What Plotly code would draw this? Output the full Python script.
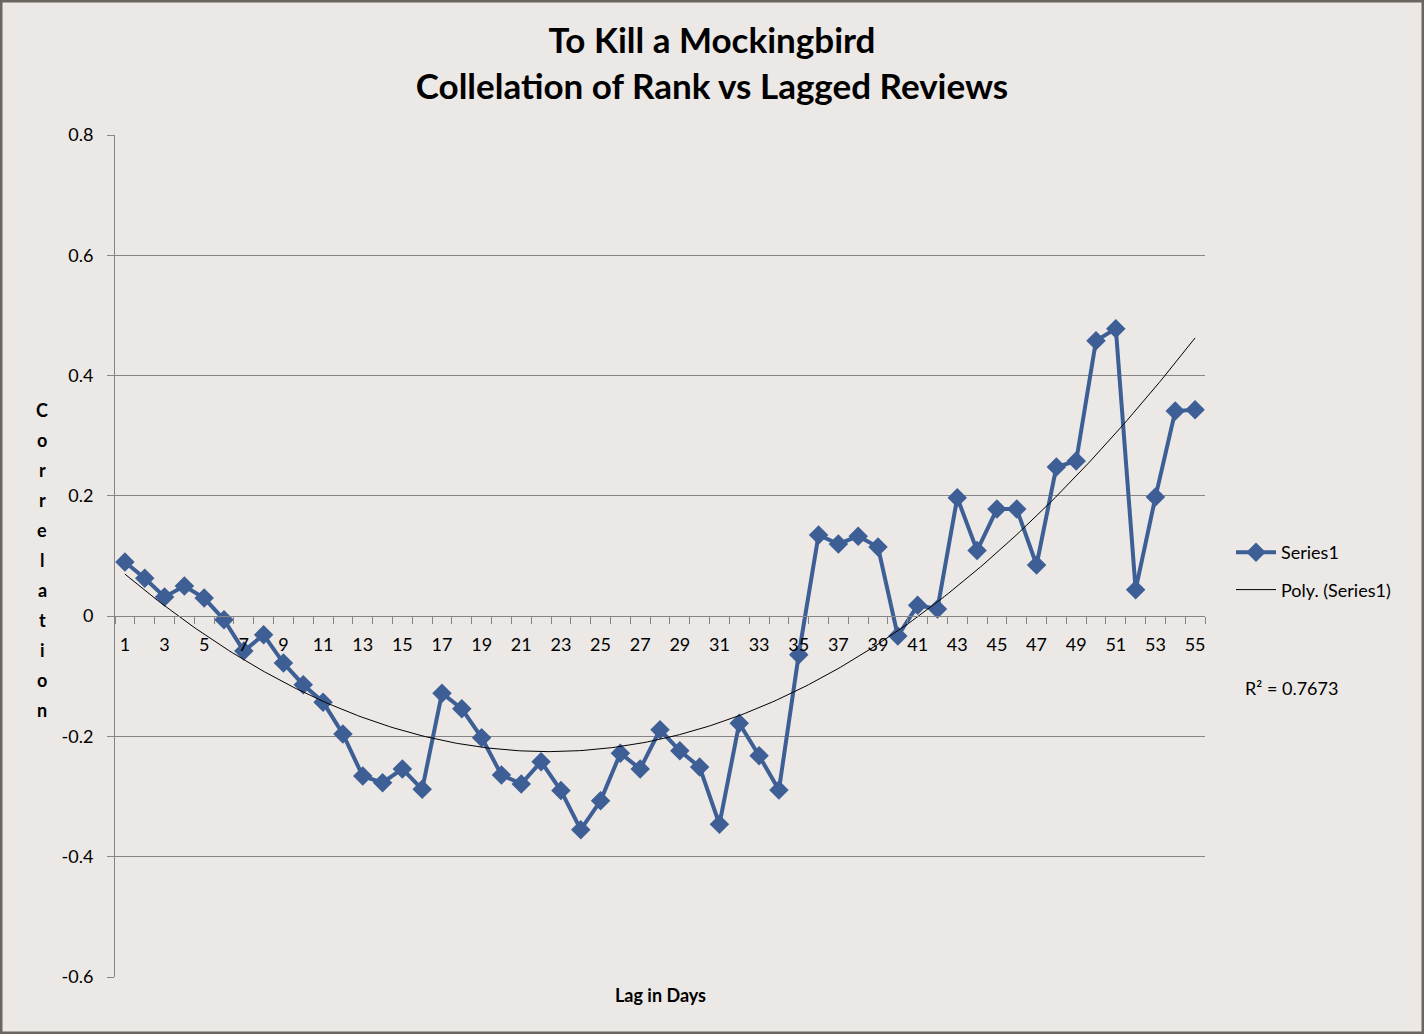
import numpy as np
import plotly.graph_objects as go

# lag in days and the correlation read for each lag
lag = list(range(1, 56))
corr = [
    0.090, 0.063, 0.032, 0.050, 0.030, -0.006, -0.058, -0.031, -0.078, -0.114,
    -0.143, -0.196, -0.266, -0.277, -0.254, -0.288, -0.128, -0.154, -0.202, -0.264,
    -0.279, -0.242, -0.290, -0.355, -0.307, -0.228, -0.254, -0.189, -0.224, -0.251,
    -0.346, -0.178, -0.232, -0.289, -0.064, 0.135, 0.120, 0.133, 0.115, -0.033,
    0.018, 0.012, 0.197, 0.109, 0.178, 0.178, 0.085, 0.248, 0.258, 0.458,
    0.478, 0.044, 0.198, 0.341, 0.343,
]
x_labels = [str(v) for v in lag if v % 2 == 1]
y_ticks = [-0.6, -0.4, -0.2, 0, 0.2, 0.4, 0.6, 0.8]
y_labels = ["-0.6", "-0.4", "-0.2", "0", "0.2", "0.4", "0.6", "0.8"]
r2_text = "R² = 0.7673"
axis_letters = list("Correlation")

# 2nd order polynomial trendline, like the Excel "Poly." trendline
coef = np.polyfit(lag, corr, 2)
xt = np.linspace(lag[0], lag[-1], 300)
yt = np.polyval(coef, xt)

blue = "#3d5f96"
grey = "#858585"
font = "Lato, Calibri, 'Open Sans', sans-serif"

fig = go.Figure()
fig.add_trace(go.Scatter(
    x=lag, y=corr, mode="lines+markers", name="Series1",
    line=dict(color=blue, width=4),
    marker=dict(symbol="diamond", size=15, color=blue),
    legendgroup="a",
))
fig.add_trace(go.Scatter(
    x=xt, y=yt, mode="lines", name="Poly. (Series1)",
    line=dict(color="black", width=1),
    legendgroup="b",
))

W, H = 1424, 1034
L, R, T, B = 115, 219, 135, 57
pw, ph = W - L - R, H - T - B

fig.update_layout(
    width=W, height=H,
    margin=dict(l=L, r=R, t=T, b=B, autoexpand=False),
    paper_bgcolor="#ebe8e5",
    plot_bgcolor="#ebe8e5",
    font=dict(family=font, size=18, color="black"),
    title=dict(
        text="<b>To Kill a Mockingbird<br>Collelation of Rank vs Lagged Reviews</b>",
        x=0.5, xref="container", xanchor="center",
        y=1 - 53 / H, yanchor="middle",
        font=dict(size=35),
    ),
    xaxis=dict(
        range=[0.5, 55.5],
        anchor="free", position=0.6 / 1.4,
        tickvals=[v for v in lag if v % 2 == 1], ticktext=x_labels,
        ticks="", showgrid=False, zeroline=False,
        showline=True, linecolor=grey, linewidth=1,
        minor=dict(tickvals=[v + 0.5 for v in range(0, 56)], ticks="outside",
                   ticklen=7, tickcolor=grey, showgrid=False),
        ticklabelstandoff=12,
        tickfont=dict(size=18),
    ),
    yaxis=dict(
        range=[-0.6, 0.8], tickvals=y_ticks, ticktext=y_labels,
        showgrid=True, gridcolor=grey, gridwidth=1,
        zeroline=False, showline=True, linecolor=grey,
        ticks="outside", ticklen=7, tickcolor=grey,
        ticklabelstandoff=10,
        tickfont=dict(size=18),
    ),
    showlegend=True,
    legend=dict(
        x=1 + 26 / pw, xanchor="left", y=1 - (534 - T) / ph, yanchor="top",
        bgcolor="rgba(0,0,0,0)", font=dict(size=18),
        tracegroupgap=11, itemwidth=40,
    ),
)

# y axis title, one letter per line like the original
for i, ch in enumerate(axis_letters):
    fig.add_annotation(
        text="<b>%s</b>" % ch, xref="paper", yref="paper",
        x=-(L - 42) / pw, y=1 - (410 + 30 * i - T) / ph,
        showarrow=False, xanchor="center", yanchor="middle",
        font=dict(size=18),
    )

fig.add_annotation(
    text="<b>Lag in Days</b>", xref="paper", yref="paper",
    x=(660 - L) / pw, y=-(995 - (T + ph)) / ph,
    showarrow=False, xanchor="center", yanchor="middle", font=dict(size=18),
)
fig.add_annotation(
    text=r2_text, xref="paper", yref="paper",
    x=(1243 - L) / pw, y=1 - (688 - T) / ph,
    showarrow=False, xanchor="left", yanchor="middle", font=dict(size=18),
)

# chart border
fig.add_shape(
    type="rect", xref="paper", yref="paper",
    x0=-(L - 1) / pw, x1=1 + (R - 1) / pw, y0=-(B - 1) / ph, y1=1 + (T - 1) / ph,
    line=dict(color="#6b6560", width=3), layer="below",
)

fig.write_html("out.html", config={"displayModeBar": False},
               post_script="document.body.style.margin='0';")
